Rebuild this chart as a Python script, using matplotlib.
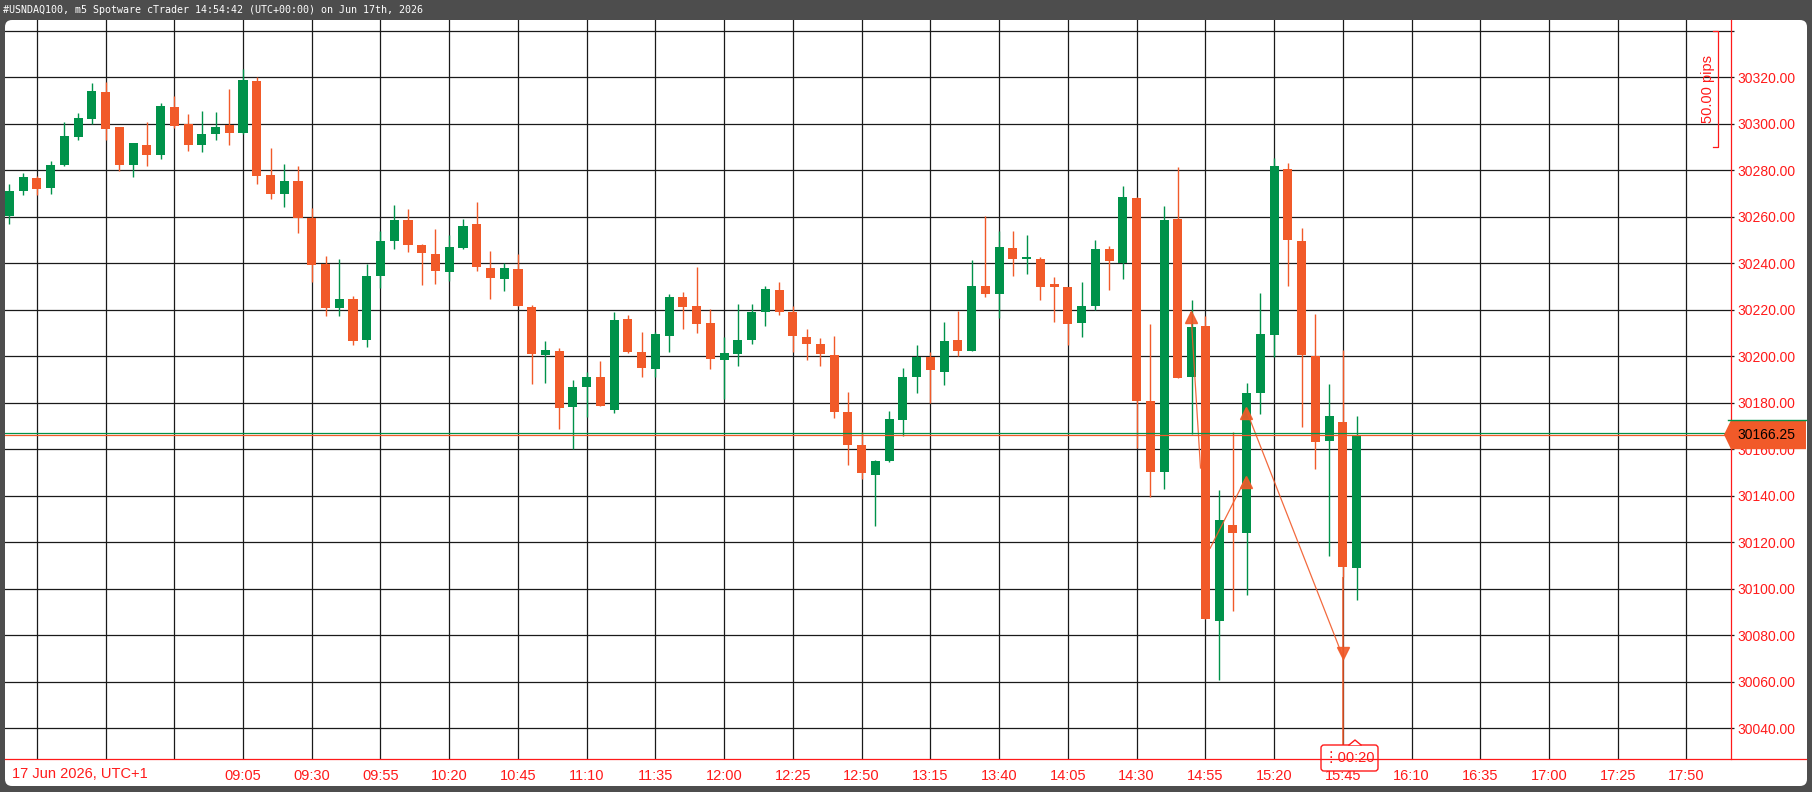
import matplotlib
matplotlib.use('Agg')
import numpy as np
import matplotlib.pyplot as plt
from matplotlib.patches import Rectangle, FancyBboxPatch, Polygon
from matplotlib.lines import Line2D
from matplotlib.transforms import IdentityTransform

plt.rcParams['font.family'] = ['Liberation Sans', 'DejaVu Sans']

# 5 minute bars, 07:40 .. 15:50 (UTC+1)
opens = [30260.5, 30271.3, 30276.8, 30272.2, 30282.5, 30294.3, 30302.1, 30313.6, 30298.5, 30282.5,
         30290.7, 30286.4, 30307.1, 30299.8, 30291.1, 30295.5, 30299.4, 30295.9, 30318.4, 30278.1,
         30269.9, 30275.5, 30259.5, 30239.6, 30220.9, 30224.8, 30207.1, 30234.4, 30249.5, 30258.5,
         30247.7, 30244.2, 30236.1, 30246.5, 30256.8, 30238.1, 30233.1, 30237.7, 30221.2, 30200.6,
         30202.2, 30178.0, 30186.7, 30190.9, 30176.8, 30216.0, 30201.7, 30194.5, 30208.8, 30225.6,
         30221.7, 30214.3, 30198.4, 30201.0, 30207.1, 30219.2, 30228.6, 30219.1, 30208.2, 30205.2,
         30200.4, 30176.2, 30161.9, 30149.0, 30155.1, 30172.4, 30191.0, 30199.6, 30193.2, 30206.9,
         30202.3, 30230.3, 30227.0, 30246.4, 30241.7, 30242.0, 30231.2, 30229.7, 30214.5, 30221.7,
         30246.2, 30240.2, 30268.2, 30180.7, 30150.3, 30259.1, 30191.1, 30213.0, 30086.1, 30127.3,
         30124.1, 30184.2, 30209.1, 30280.6, 30249.6, 30200.1, 30163.6, 30171.9, 30109.1]
highs = [30274.2, 30279.0, 30277.7, 30284.2, 30300.6, 30304.5, 30317.5, 30318.0, 30298.7, 30291.8,
         30300.6, 30308.9, 30311.9, 30304.1, 30305.4, 30305.0, 30314.9, 30323.6, 30320.1, 30289.8,
         30282.9, 30282.0, 30263.8, 30243.0, 30241.7, 30226.1, 30239.7, 30253.7, 30265.0, 30263.2,
         30248.5, 30254.6, 30252.0, 30258.9, 30266.3, 30245.1, 30240.3, 30244.2, 30222.1, 30206.5,
         30203.5, 30189.6, 30193.1, 30198.0, 30219.1, 30217.8, 30210.4, 30210.4, 30226.9, 30227.7,
         30238.6, 30220.4, 30208.2, 30222.5, 30222.5, 30230.3, 30232.1, 30221.7, 30211.7, 30207.8,
         30208.7, 30184.8, 30167.5, 30155.4, 30176.6, 30194.8, 30204.8, 30201.7, 30214.7, 30219.5,
         30241.6, 30260.2, 30253.7, 30253.7, 30252.0, 30242.9, 30234.2, 30229.9, 30231.9, 30250.0,
         30247.6, 30273.2, 30268.5, 30213.9, 30264.6, 30281.4, 30224.2, 30217.3, 30142.6, 30167.3,
         30188.5, 30227.3, 30285.4, 30283.2, 30255.2, 30218.2, 30188.1, 30202.7, 30174.2]
lows = [30257.0, 30269.6, 30269.2, 30269.9, 30282.0, 30292.9, 30299.9, 30293.0, 30279.9, 30277.3,
        30282.0, 30285.1, 30298.1, 30288.5, 30288.1, 30292.9, 30290.7, 30295.5, 30274.2, 30267.7,
        30264.3, 30253.0, 30231.8, 30217.5, 30217.5, 30204.9, 30204.0, 30229.2, 30246.1, 30244.8,
        30230.5, 30230.9, 30232.2, 30246.3, 30236.5, 30224.8, 30228.3, 30221.5, 30188.0, 30188.4,
        30168.5, 30160.3, 30173.7, 30178.4, 30175.5, 30201.3, 30191.0, 30191.0, 30201.9, 30211.8,
        30210.1, 30194.5, 30181.5, 30195.8, 30205.3, 30213.1, 30217.9, 30201.9, 30198.4, 30195.8,
        30173.3, 30153.4, 30147.3, 30126.9, 30154.7, 30165.9, 30184.1, 30179.8, 30187.6, 30200.1,
        30202.3, 30225.3, 30216.6, 30234.4, 30235.2, 30224.0, 30214.9, 30204.8, 30208.1, 30219.9,
        30228.7, 30233.4, 30160.7, 30139.6, 30143.0, 30190.7, 30166.5, 30087.0, 30060.8, 30090.5,
        30097.4, 30175.2, 30199.9, 30230.3, 30169.6, 30151.6, 30114.1, 30105.0, 30095.1]
closes = [30271.2, 30277.3, 30271.8, 30282.5, 30294.6, 30302.4, 30314.1, 30297.8, 30282.5, 30291.6,
          30286.4, 30307.6, 30298.9, 30291.1, 30295.5, 30298.5, 30295.9, 30318.8, 30277.7, 30269.9,
          30275.5, 30259.5, 30239.1, 30220.9, 30224.8, 30206.6, 30234.7, 30249.4, 30258.5, 30247.8,
          30244.3, 30236.5, 30247.2, 30255.9, 30238.3, 30233.5, 30238.1, 30221.8, 30201.0, 30202.6,
          30177.6, 30186.6, 30190.9, 30178.5, 30215.6, 30201.7, 30194.9, 30209.5, 30225.6, 30221.4,
          30214.0, 30198.8, 30201.3, 30206.9, 30219.1, 30229.0, 30219.2, 30208.8, 30205.3, 30201.0,
          30175.9, 30162.0, 30149.9, 30154.9, 30173.1, 30190.9, 30199.6, 30194.1, 30206.5, 30202.3,
          30230.3, 30227.0, 30247.2, 30241.7, 30242.9, 30230.0, 30229.6, 30214.0, 30221.6, 30246.2,
          30241.1, 30268.5, 30180.8, 30150.3, 30258.6, 30190.8, 30212.5, 30087.1, 30129.5, 30124.1,
          30184.2, 30209.6, 30281.8, 30250.2, 30200.7, 30163.2, 30174.2, 30109.5, 30166.25]

# time axis: a grid line every 25 minutes, first at 07:50 (bar 2)
tick_bars = list(range(2, 123, 5))
tick_labels = ['', '', '', '09:05', '09:30', '09:55', '10:20', '10:45', '11:10', '11:35',
               '12:00', '12:25', '12:50', '13:15', '13:40', '14:05', '14:30', '14:55',
               '15:20', '15:45', '16:10', '16:35', '17:00', '17:25', '17:50']
price_ticks = list(range(30040, 30341, 20))

bid = 30166.25
ask = 30167.0

# drawn lines on the chart: (bar, price) start -> end
line_up_left = [(86.65, 30151.9), (85.95, 30218.8)]
line_up_right = [(87.35, 30117.4), (89.95, 30147.6)]
line_down = [(89.95, 30177.3), (97.0, 30070.8)]
# triangle markers at the line ends
tri_up = [(85.95, 30216.9), (89.95, 30146.0), (89.95, 30175.4)]
tri_down = [(97.0, 30072.4)]

title = '#USNDAQ100, m5 Spotware cTrader 14:54:42 (UTC+00:00) on Jun 17th, 2026'

GREEN = '#00924a'
ORANGE = '#f15a29'
RED = '#ff1a1a'
GRID = '#1a1a1a'

W, H = 1812, 792
fig = plt.figure(figsize=(W / 100, H / 100), dpi=100)
fig.patch.set_facecolor('#4d4d4d')

# white chart panel under the title bar
panel = FancyBboxPatch((5, H - 786), 1802, 766, boxstyle='round,pad=0,rounding_size=7',
                       transform=IdentityTransform(), fc='white', ec='none', zorder=-5)
fig.add_artist(panel)

fig.text(3 / W, 1 - 10 / H, title, color='white', family='DejaVu Sans Mono',
         fontsize=7.2, va='center', ha='left')

ax = fig.add_axes([5 / W, 33 / H, (1731 - 5) / W, (759 - 20) / H])
ax.set_facecolor('none')
ax.set_xlim(-0.315, 125.24)
ax.set_ylim(30026.7, 30344.7)

ax.set_xticks(tick_bars)
ax.set_xticklabels(tick_labels)
ax.set_yticks(price_ticks)
ax.set_yticklabels([f'{p:.2f}' if p < 30340 else '' for p in price_ticks])
ax.yaxis.tick_right()
ax.grid(True, color=GRID, lw=0.9)
ax.set_axisbelow(True)
ax.tick_params(axis='x', length=0, pad=7, labelcolor=RED, labelsize=10.5)
ax.tick_params(axis='y', length=2.5, width=0.9, color=GRID, pad=2, labelcolor=RED, labelsize=10)
for side in ['left', 'top', 'bottom']:
    ax.spines[side].set_visible(False)
ax.spines['right'].set_color(RED)
ax.spines['right'].set_linewidth(0.9)

# candles
x = np.arange(len(opens))
for i in x:
    o, h, l, c = opens[i], highs[i], lows[i], closes[i]
    col = GREEN if c >= o else ORANGE
    ax.vlines(i, l, h, color=col, lw=1.0, zorder=3)
    ax.add_patch(Rectangle((i - 0.33, min(o, c)), 0.66, max(abs(c - o), 0.8),
                           fc=col, ec='none', zorder=4))

# bid / ask lines
ax.axhline(ask, color=GREEN, lw=0.9, zorder=6)
ax.axhline(bid, color=ORANGE, lw=0.9, zorder=6)

# hand drawn lines with triangle ends
for seg in [line_up_left, line_up_right, line_down]:
    ax.plot([seg[0][0], seg[1][0]], [seg[0][1], seg[1][1]], color=ORANGE, lw=0.9,
            alpha=0.9, zorder=5)
ax.plot([p[0] for p in tri_up], [p[1] for p in tri_up], ls='none', marker='^',
        ms=8, color=ORANGE, alpha=0.9, zorder=5)
ax.plot([p[0] for p in tri_down], [p[1] for p in tri_down], ls='none', marker='v',
        ms=8, color=ORANGE, alpha=0.9, zorder=5)
ax.vlines(line_down[1][0], ax.get_ylim()[0], lows[97], color=ORANGE, lw=1.1, zorder=3.5)

# 50 pips ruler
ax.plot([123.9, 124.3, 124.3, 123.9], [30340, 30340, 30290, 30290], color=RED, lw=0.9,
        clip_on=False, zorder=5)
ax.text(123.57, 30315, '50.00 pips', rotation=90, color=RED, fontsize=10.5,
        ha='center', va='center')

# bottom axis line across the whole panel
fig.add_artist(Line2D([5, 1806], [H - 759, H - 759], color=RED, lw=0.9,
                      transform=IdentityTransform()))
fig.text(11.5 / W, (H - 774) / H, '17 Jun 2026, UTC+1', color=RED, fontsize=10.5,
         ha='left', va='center')

# current price tag
yb = ax.transData.transform((0, bid))[1]
tag = Polygon([(1724, yb), (1731, yb + 14.5), (1806, yb + 14.5), (1806, yb - 14.5),
               (1731, yb - 14.5)], closed=True, fc=ORANGE, ec='none',
              transform=IdentityTransform())
fig.add_artist(tag)
fig.add_artist(Line2D([1728, 1806], [yb + 14.5, yb + 14.5], color=GREEN, lw=1.0,
                      transform=IdentityTransform()))
fig.text(1737 / W, yb / H, f'{bid:.2f}', color='black', fontsize=10, ha='left', va='center')

# bar countdown box
box = FancyBboxPatch((1321, H - 771), 57, 26, boxstyle='round,pad=0,rounding_size=3',
                     transform=IdentityTransform(), fc='white', ec=RED, lw=1.0)
fig.add_artist(box)
notch = Polygon([(1349, H - 745), (1355, H - 740), (1361, H - 745)], closed=True,
                fc='white', ec='none', transform=IdentityTransform())
fig.add_artist(notch)
fig.add_artist(Line2D([1349, 1355, 1361], [H - 745, H - 740, H - 745], color=RED, lw=1.0,
                      transform=IdentityTransform()))
fig.text(1349.5 / W, (H - 758) / H, '\u22ee00:20', color=RED, fontsize=10.5,
         ha='center', va='center', family=['Liberation Sans', 'DejaVu Sans'])

fig.savefig('out.png', dpi=100, facecolor=fig.get_facecolor())
